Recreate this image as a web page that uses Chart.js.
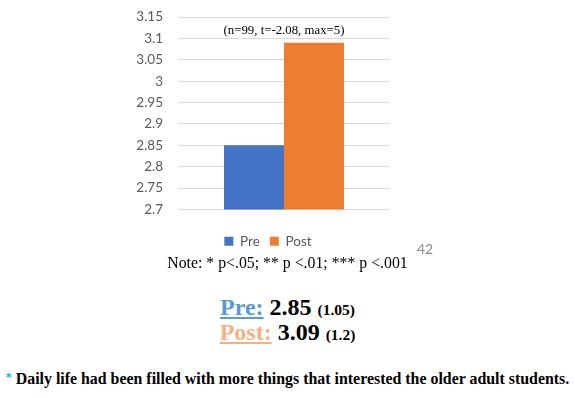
<!DOCTYPE html>
<html><head><meta charset="utf-8">
<script src="https://cdn.jsdelivr.net/npm/chart.js@4"></script>
<style>
html,body{margin:0;padding:0;background:#fff;width:575px;height:398px;overflow:hidden;position:relative;}
#wrap{position:absolute;left:0;top:0;width:536px;height:258px;}
.t{position:absolute;white-space:nowrap;font-family:"Liberation Serif","Times New Roman",serif;color:#000;}
</style></head>
<body>
<div id="wrap"><canvas id="c"></canvas></div>
<div class="t" id="page" style="left:417px;top:240px;font-family:'Lato','Open Sans',sans-serif;font-size:14px;color:#8c8c8c;">42</div>
<div class="t" style="left:0;width:575px;text-align:center;top:254px;font-size:15.8px;">Note: * p&lt;.05; ** p &lt;.01; *** p &lt;.001</div>
<div class="t" style="left:0;width:575px;text-align:center;top:296px;font-size:24px;font-weight:bold;line-height:22px;">
<span style="color:#5B9BD5;text-decoration:underline;">Pre:</span> 2.85 <span style="font-size:15.5px;">(1.05)</span><br>
<span style="color:#F4B183;text-decoration:underline;">Post:</span> 3.09 <span style="font-size:15.5px;">(1.2)</span>
</div>
<div class="t" style="left:0;width:575px;text-align:center;top:370px;font-size:15.9px;font-weight:bold;"><span style="color:#00B0F0;font-size:12px;vertical-align:3px;">*</span> Daily life had been filled with more things that interested the older adult students.</div>
<script>
const categories = [''];
const seriesNames = ['Pre', 'Post'];
const preValues = [2.85];
const postValues = [3.09];
const yTicks = [2.7, 2.75, 2.8, 2.85, 2.9, 2.95, 3, 3.05, 3.1, 3.15];
const annotationText = '(n=99, t=-2.08, max=5)';

const annot = {
  id: 'annot',
  afterDatasetsDraw(chart) {
    const {ctx, scales} = chart;
    const x = scales.x.getPixelForValue(0);
    const y = scales.y.getPixelForValue(yTicks[yTicks.length - 1]);
    ctx.save();
    ctx.font = '12.8px "Liberation Serif", "Times New Roman", serif';
    ctx.fillStyle = '#000';
    ctx.textAlign = 'center';
    ctx.textBaseline = 'middle';
    ctx.fillText(annotationText, x, y + 14);
    ctx.restore();
  }
};

new Chart(document.getElementById('c'), {
  type: 'bar',
  data: {
    labels: categories,
    datasets: [
      {label: seriesNames[0], data: preValues, backgroundColor: '#4472C4', yAxisID: 'y'},
      {label: seriesNames[1], data: postValues, backgroundColor: '#ED7D31', yAxisID: 'y'}
    ]
  },
  options: {
    responsive: true,
    maintainAspectRatio: false,
    animation: false,
    devicePixelRatio: 1,
    layout: {padding: {top: 17, left: 0, right: 0, bottom: 0}},
    datasets: {bar: {barPercentage: 1, categoryPercentage: 0.566}},
    plugins: {
      legend: {
        position: 'bottom',
        labels: {boxWidth: 9, boxHeight: 9, padding: 10, color: '#595959',
          font: {family: 'Lato, "Open Sans", sans-serif', size: 13.5}}
      },
      tooltip: {enabled: false}
    },
    scales: {
      x: {
        ticks: {display: false},
        grid: {display: false},
        border: {display: false},
        afterFit(a) { a.height = 15; }
      },
      y: {
        position: 'left',
        min: 2.7, max: 3.15,
        afterBuildTicks(a) { a.ticks = yTicks.map(v => ({value: v})); },
        afterFit(a) { a.width = 178; a.paddingTop = 0; a.paddingBottom = 0; },
        ticks: {padding: 15, color: '#595959', font: {family: 'Lato, "Open Sans", sans-serif', size: 13.5},
          callback: v => String(v)},
        grid: {color: '#d9d9d9', drawTicks: false},
        border: {display: false}
      },
      yR: {
        position: 'right',
        display: true,
        ticks: {display: false},
        grid: {display: false},
        border: {display: false},
        afterFit(a) { a.width = 146; a.paddingTop = 0; a.paddingBottom = 0; }
      }
    }
  },
  plugins: [annot]
});
</script>
</body></html>
